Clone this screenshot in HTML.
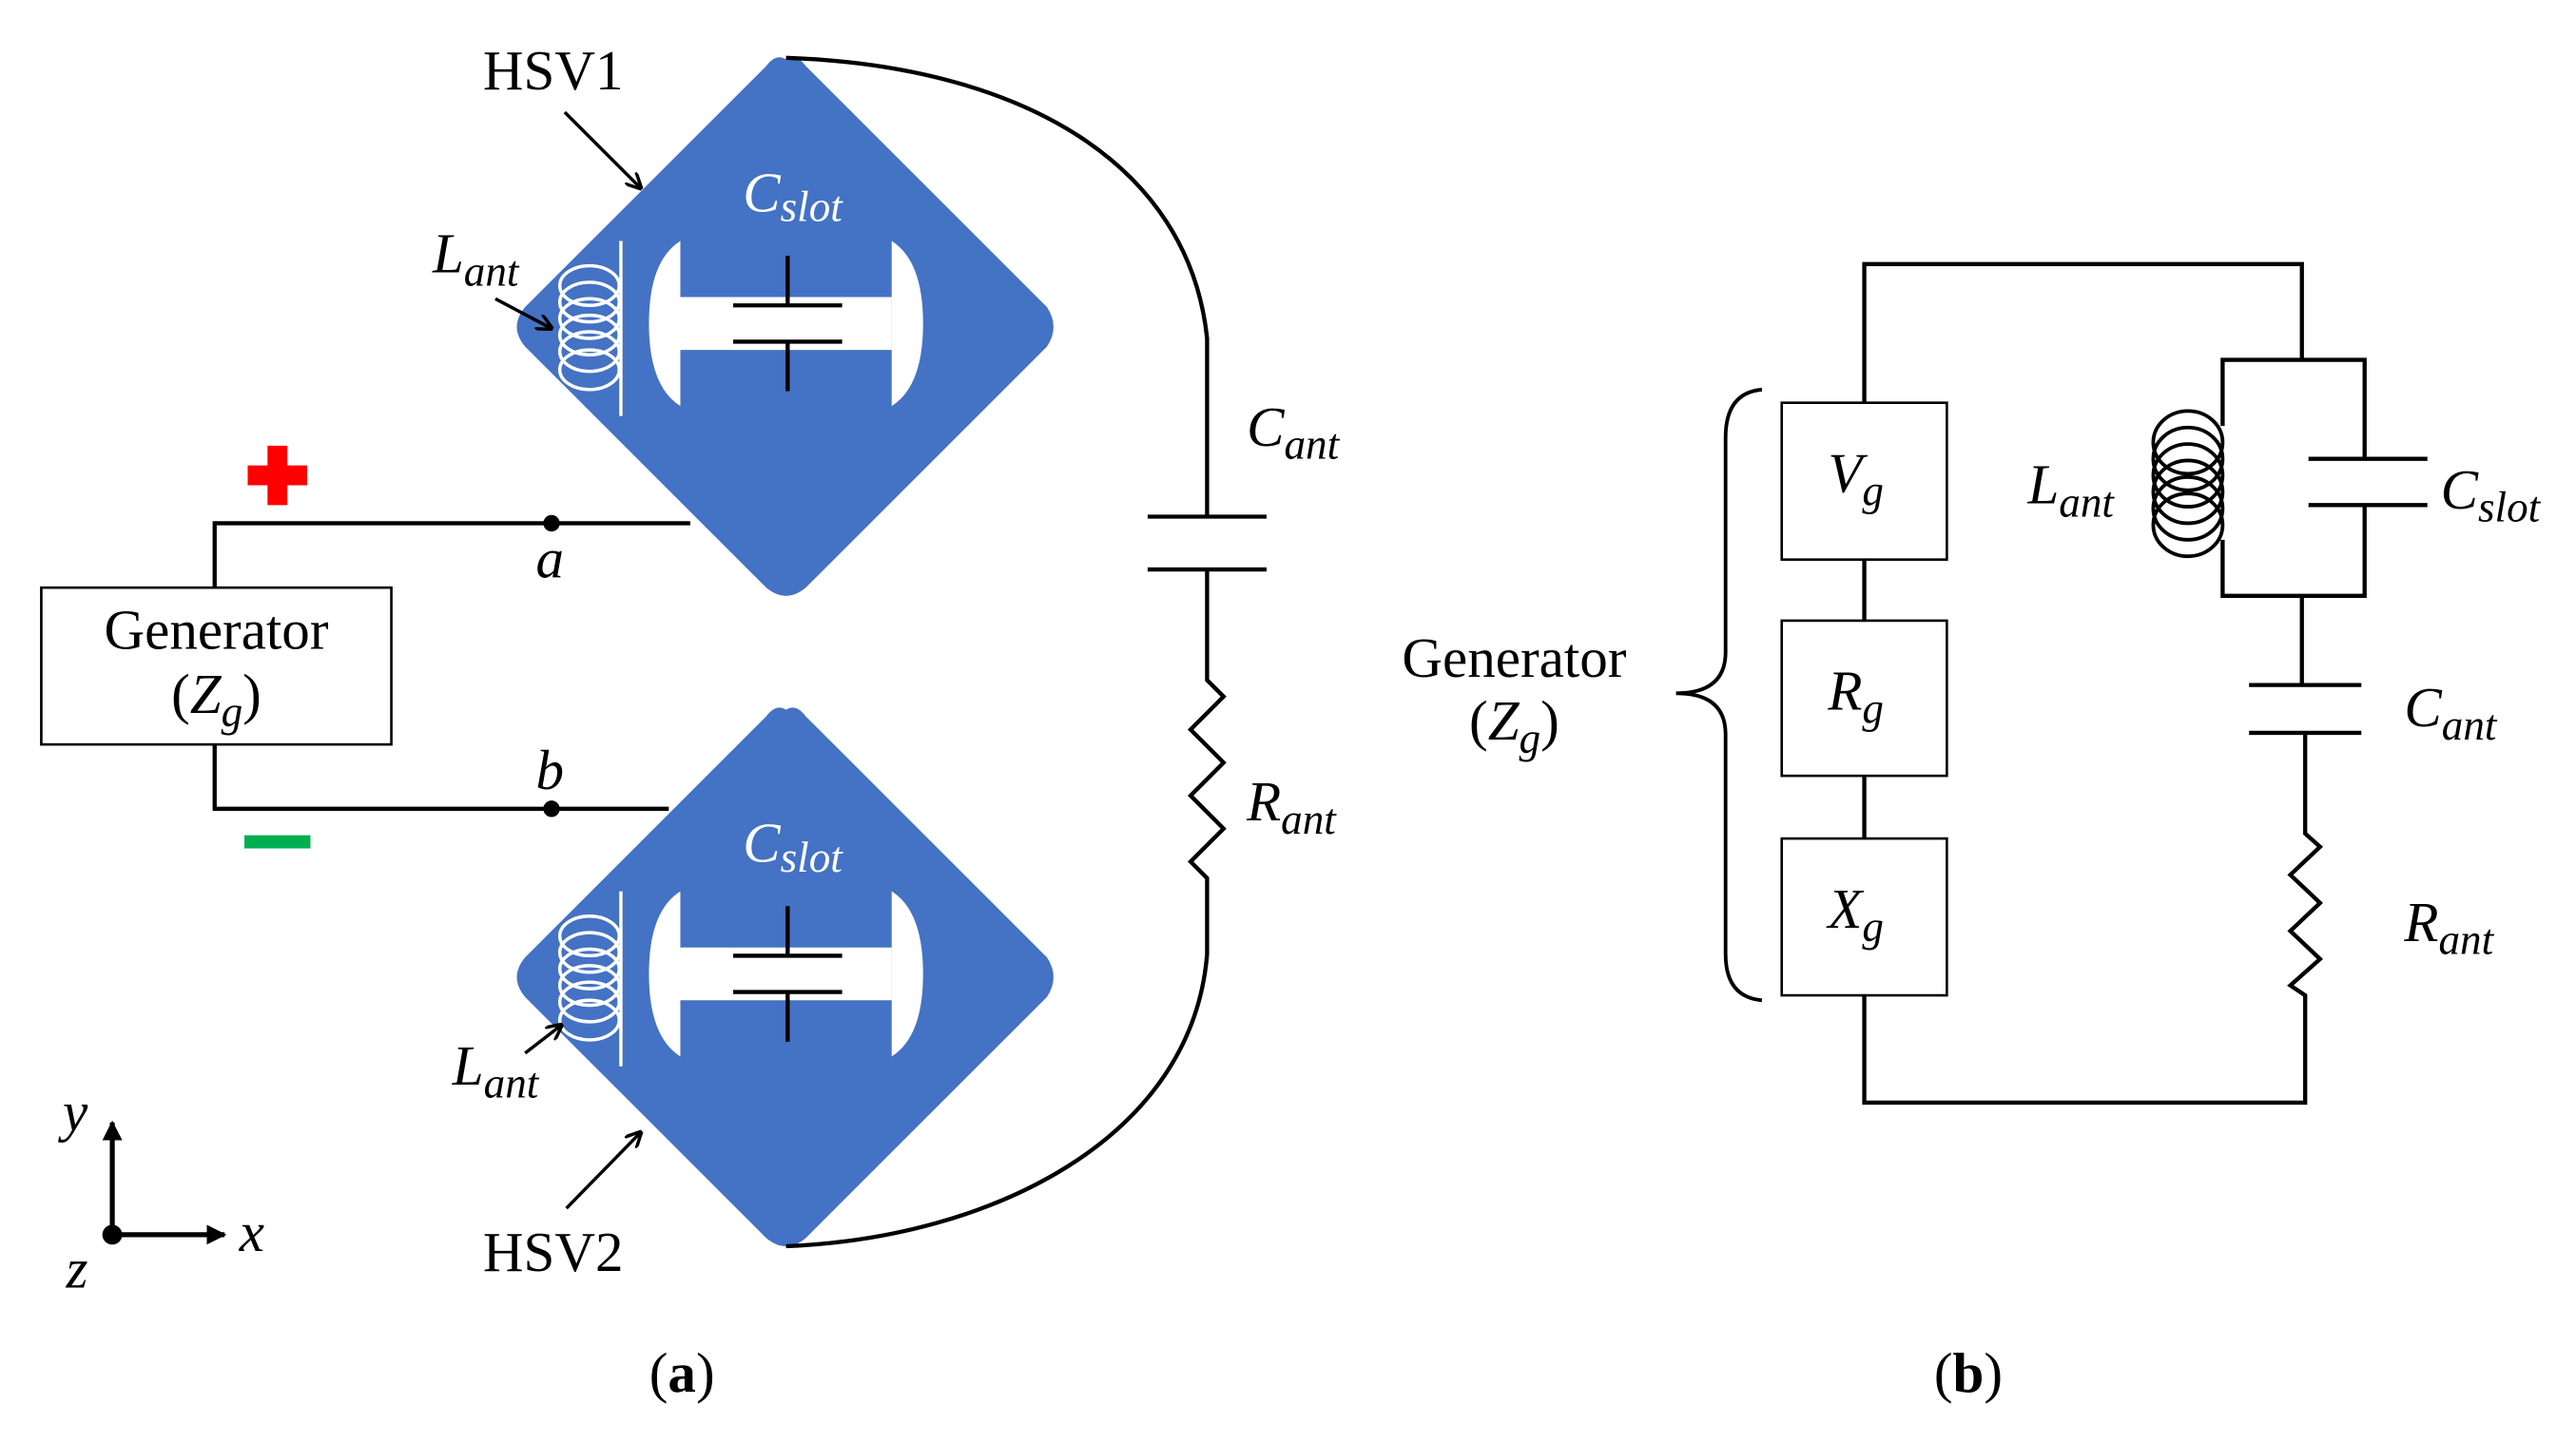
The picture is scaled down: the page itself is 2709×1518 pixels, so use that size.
<!DOCTYPE html>
<html><head><meta charset="utf-8"><style>
html,body{margin:0;padding:0;background:#fff;}
svg{display:block;}
text{font-family:"Liberation Serif",serif;}
.m{font-style:italic;}
</style></head><body>
<svg width="2709" height="1518" viewBox="0 0 1560 874.2" preserveAspectRatio="none" xmlns="http://www.w3.org/2000/svg">
<defs>
<marker id="ar" viewBox="0 0 10 10" refX="9" refY="5" markerWidth="5" markerHeight="5" orient="auto"><path d="M0,0 L10,5 L0,10" fill="none" stroke="#000" stroke-width="2"/></marker>
<marker id="af" viewBox="0 0 10 10" refX="9" refY="5" markerWidth="4" markerHeight="4" orient="auto"><path d="M0,0 L10,5 L0,10 z" fill="#000"/></marker>
<g id="hsv">
<path d="M476,36 Q482,32 488,40 L634,186 Q642,198 634,210 L488,356 Q476,366 464,356 L318,210 Q308,198 318,186 L464,40 Q470,32 476,36 Z" fill="#4472C4"/>
<path d="M412,180 H540 V212 H412 Z" fill="#fff"/>
<path d="M393,196 Q393,158 412,146 V246 Q393,234 393,196 Z" fill="#fff"/>
<path d="M559,196 Q559,158 540,146 V246 Q559,234 559,196 Z" fill="#fff"/>
<g stroke="#000" stroke-width="2.5" fill="none">
<line x1="477" y1="155" x2="477" y2="185"/><line x1="477" y1="207" x2="477" y2="237"/>
<line x1="444" y1="185" x2="510" y2="185"/><line x1="444" y1="207" x2="510" y2="207"/>
</g>
<g stroke="#fff" stroke-width="2" fill="none">
<line x1="376" y1="146" x2="376" y2="252"/>
<ellipse cx="357" cy="173" rx="18" ry="12"/><ellipse cx="357" cy="183" rx="18" ry="12"/>
<ellipse cx="357" cy="193" rx="18" ry="12"/><ellipse cx="357" cy="203" rx="18" ry="12"/>
<ellipse cx="357" cy="213" rx="18" ry="12"/><ellipse cx="357" cy="224" rx="18" ry="12"/>
</g>
<text x="480" y="128" class="m" font-size="34" fill="#fff" text-anchor="middle">C<tspan font-size="26" dy="6">slot</tspan></text>
</g>
</defs>
<use href="#hsv"/>
<use href="#hsv" transform="translate(0,394)"/>
<g stroke="#000" stroke-width="2.5" fill="none">
<path d="M418,317 H130 V356"/>
<path d="M130,451 V490 H405"/>
<path d="M476,35 C620,40 720,100 731,205 V313"/>
<line x1="695" y1="313" x2="767" y2="313"/><line x1="695" y1="345" x2="767" y2="345"/>
<path d="M731,345 V412 L741,422 L721,442 L741,462 L721,482 L741,502 L721,522 L731,532 V578 C722,690 600,750 476,755"/>
</g>
<rect x="25" y="356" width="212" height="95" fill="#fff" stroke="#000" stroke-width="1.5"/>
<text x="131" y="393" font-size="34" text-anchor="middle">Generator</text>
<text x="131" y="432" font-size="34" text-anchor="middle">(<tspan class="m">Z</tspan><tspan class="m" font-size="26" dy="8">g</tspan><tspan dy="-8">)</tspan></text>
<circle cx="334" cy="317" r="5" fill="#000"/><circle cx="334" cy="490" r="5" fill="#000"/>
<text x="333" y="350" class="m" font-size="34" text-anchor="middle">a</text>
<text x="333" y="478" class="m" font-size="34" text-anchor="middle">b</text>
<path d="M162,270 H174 V282 H186 V294 H174 V306 H162 V294 H150 V282 H162 Z" fill="#f00"/>
<rect x="148" y="506" width="40" height="8" fill="#00b050"/>
<text x="335" y="54" font-size="34" text-anchor="middle">HSV1</text>
<line x1="342" y1="68" x2="388" y2="114" stroke="#000" stroke-width="2" marker-end="url(#ar)"/>
<text x="335" y="770" font-size="34" text-anchor="middle">HSV2</text>
<line x1="343" y1="732" x2="388" y2="686" stroke="#000" stroke-width="2" marker-end="url(#ar)"/>
<text x="262" y="165" class="m" font-size="34">L<tspan font-size="26" dy="8">ant</tspan></text>
<line x1="300" y1="181" x2="334" y2="199" stroke="#000" stroke-width="2" marker-end="url(#ar)"/>
<text x="274" y="657" class="m" font-size="34">L<tspan font-size="26" dy="8">ant</tspan></text>
<line x1="318" y1="638" x2="340" y2="621" stroke="#000" stroke-width="2" marker-end="url(#ar)"/>
<text x="755" y="270" class="m" font-size="34">C<tspan font-size="26" dy="8">ant</tspan></text>
<text x="755" y="497" class="m" font-size="34">R<tspan font-size="26" dy="8">ant</tspan></text>
<line x1="68" y1="748" x2="68" y2="680" stroke="#000" stroke-width="3" marker-end="url(#af)"/>
<line x1="68" y1="748" x2="136" y2="748" stroke="#000" stroke-width="3" marker-end="url(#af)"/>
<circle cx="68" cy="748" r="6" fill="#000"/>
<text x="38" y="685" class="m" font-size="34">y</text>
<text x="145" y="758" class="m" font-size="34">x</text>
<text x="40" y="780" class="m" font-size="34">z</text>
<text x="413" y="843" font-size="34" text-anchor="middle">(<tspan font-weight="bold">a</tspan>)</text>
<text x="1192" y="843" font-size="34" text-anchor="middle">(<tspan font-weight="bold">b</tspan>)</text>
<g stroke="#000" stroke-width="2.5" fill="none">
<path d="M1129,244 V160 H1394 V218"/>
<path d="M1346,258 V218 H1432 V278"/>
<path d="M1346,327 V361 H1432 V306"/>
<line x1="1398" y1="278" x2="1470" y2="278"/><line x1="1398" y1="306" x2="1470" y2="306"/>
<path d="M1394,361 V415"/>
<line x1="1362" y1="415" x2="1430" y2="415"/><line x1="1362" y1="444" x2="1430" y2="444"/>
<path d="M1396,444 V505 L1405,513 L1387,530 L1405,547 L1387,564 L1405,581 L1387,597 L1396,603 V668 H1129 V603"/>
<line x1="1129" y1="339" x2="1129" y2="376"/><line x1="1129" y1="470" x2="1129" y2="508"/>
<g stroke-width="2.2">
<ellipse cx="1325" cy="268" rx="21" ry="19"/><ellipse cx="1325" cy="278" rx="21" ry="19"/>
<ellipse cx="1325" cy="288" rx="21" ry="19"/><ellipse cx="1325" cy="298" rx="21" ry="19"/>
<ellipse cx="1325" cy="308" rx="21" ry="19"/><ellipse cx="1325" cy="318" rx="21" ry="19"/>
</g>
<path d="M1067,236 Q1045,238 1045,265 V395 Q1045,420 1015,420 Q1045,420 1045,445 V578 Q1045,604 1067,606" stroke-width="2.2"/>
</g>
<g fill="#fff" stroke="#000" stroke-width="1.5">
<rect x="1079" y="244" width="100" height="95"/>
<rect x="1079" y="376" width="100" height="94"/>
<rect x="1079" y="508" width="100" height="95"/>
</g>
<text x="1107" y="298" class="m" font-size="34">V<tspan font-size="26" dy="8">g</tspan></text>
<text x="1107" y="430" class="m" font-size="34">R<tspan font-size="26" dy="8">g</tspan></text>
<text x="1107" y="562" class="m" font-size="34">X<tspan font-size="26" dy="8">g</tspan></text>
<text x="917" y="410" font-size="34" text-anchor="middle">Generator</text>
<text x="917" y="448" font-size="34" text-anchor="middle">(<tspan class="m">Z</tspan><tspan class="m" font-size="26" dy="8">g</tspan><tspan dy="-8">)</tspan></text>
<text x="1228" y="305" class="m" font-size="34">L<tspan font-size="26" dy="8">ant</tspan></text>
<text x="1478" y="308" class="m" font-size="34">C<tspan font-size="26" dy="8">slot</tspan></text>
<text x="1456" y="440" class="m" font-size="34">C<tspan font-size="26" dy="8">ant</tspan></text>
<text x="1456" y="570" class="m" font-size="34">R<tspan font-size="26" dy="8">ant</tspan></text>
</svg>
</body></html>
